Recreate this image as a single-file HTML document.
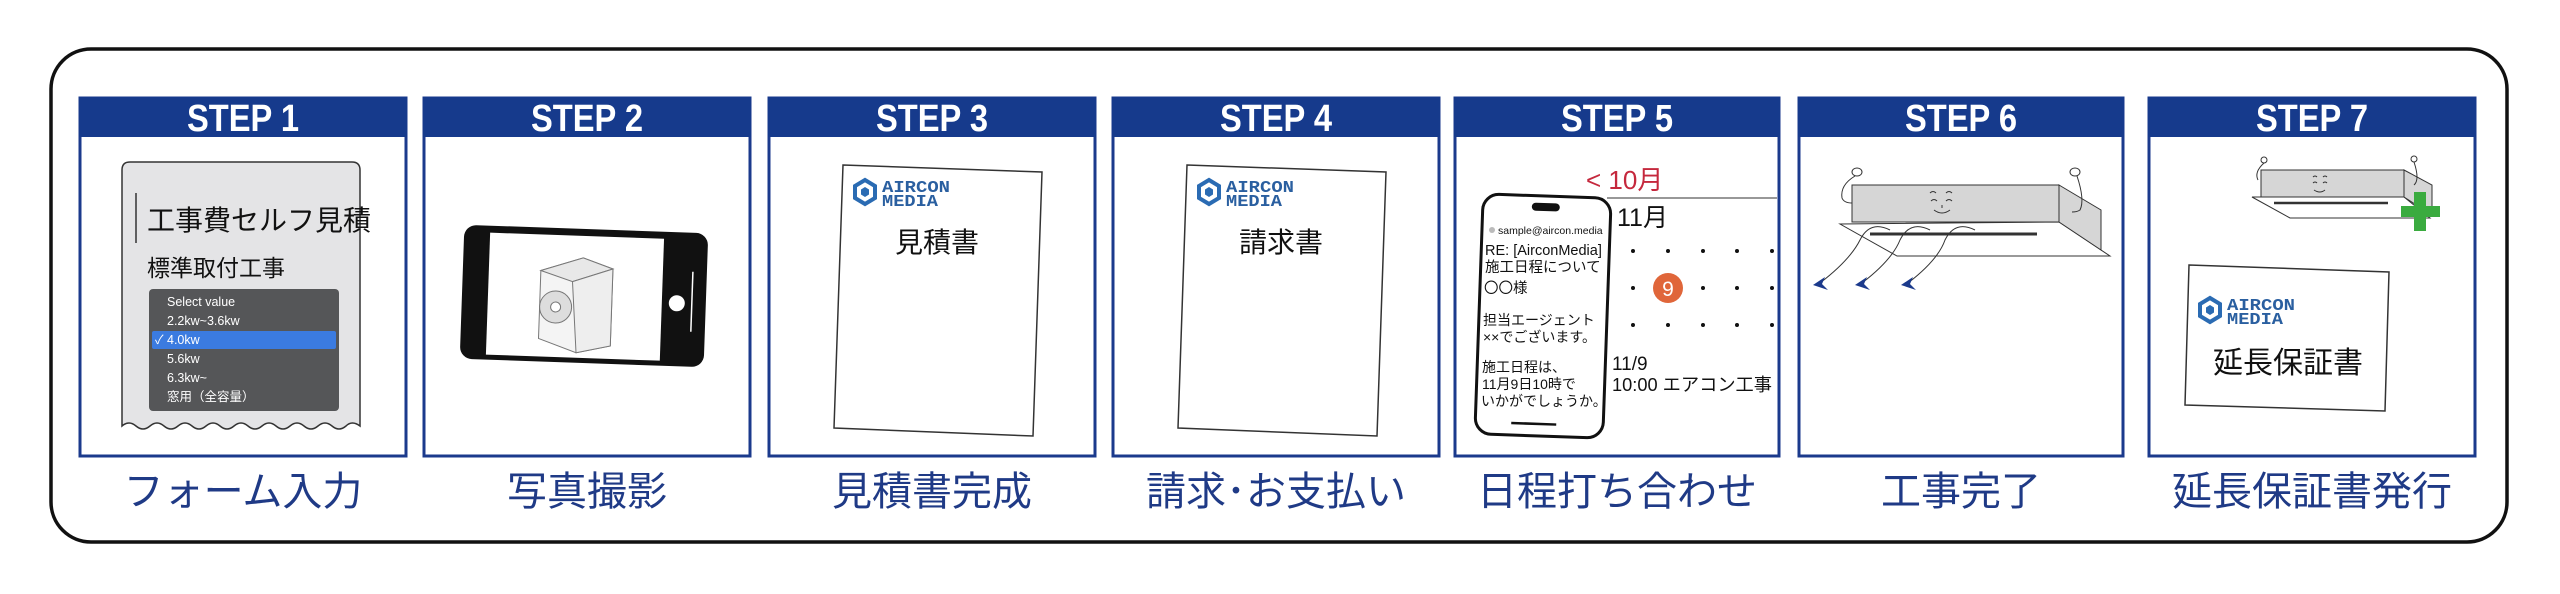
<!DOCTYPE html>
<html><head><meta charset="utf-8"><style>
html,body{margin:0;padding:0;background:#fff;}
svg{display:block;}
.st{font-family:"Liberation Sans Narrow","Liberation Sans",sans-serif;font-weight:bold;font-size:38px;fill:#fff;text-anchor:middle;}
.lb{font-family:"Liberation Sans","Noto Sans CJK JP",sans-serif;font-size:40px;fill:#1f3a86;text-anchor:middle;}
.jp{font-family:"Liberation Sans","Noto Sans CJK JP",sans-serif;}
.lg{font-family:"Liberation Mono","DejaVu Sans Mono",monospace;font-weight:bold;font-size:17px;fill:#2a5fa0;}
</style></head><body>
<svg width="2560" height="594" viewBox="0 0 2560 594" xmlns="http://www.w3.org/2000/svg">
<defs>
<g id="logo">
  <polygon points="11,0 21,6 21,18 11,24 1,18 1,6" fill="none" stroke="#2a6bb3" stroke-width="4"/>
  <polygon points="11,7 15,9.5 15,14.5 11,17 7,14.5 7,9.5" fill="#2a6bb3"/>
  <text x="28" y="12" class="lg" textLength="68" lengthAdjust="spacingAndGlyphs">AIRCON</text>
  <text x="28" y="26" class="lg" textLength="56" lengthAdjust="spacingAndGlyphs">MEDIA</text>
</g>
</defs>
<rect x="51" y="49" width="2456" height="493" rx="40" fill="none" stroke="#111" stroke-width="3.5"/>

<g stroke="#1b3a8c" stroke-width="3" fill="none">
<rect x="80" y="98" width="326" height="358"/>
<rect x="424" y="98" width="326" height="358"/>
<rect x="769" y="98" width="326" height="358"/>
<rect x="1113" y="98" width="326" height="358"/>
<rect x="1455" y="98" width="324" height="358"/>
<rect x="1799" y="98" width="324" height="358"/>
<rect x="2149" y="98" width="326" height="358"/>
</g>
<g fill="#163a8c">
<rect x="79" y="97" width="328" height="40"/>
<rect x="423" y="97" width="328" height="40"/>
<rect x="768" y="97" width="328" height="40"/>
<rect x="1112" y="97" width="328" height="40"/>
<rect x="1454" y="97" width="326" height="40"/>
<rect x="1798" y="97" width="326" height="40"/>
<rect x="2148" y="97" width="328" height="40"/>
</g>
<text class="st" x="243" y="131" textLength="112" lengthAdjust="spacingAndGlyphs">STEP 1</text>
<text class="st" x="587" y="131" textLength="112" lengthAdjust="spacingAndGlyphs">STEP 2</text>
<text class="st" x="932" y="131" textLength="112" lengthAdjust="spacingAndGlyphs">STEP 3</text>
<text class="st" x="1276" y="131" textLength="112" lengthAdjust="spacingAndGlyphs">STEP 4</text>
<text class="st" x="1617" y="131" textLength="112" lengthAdjust="spacingAndGlyphs">STEP 5</text>
<text class="st" x="1961" y="131" textLength="112" lengthAdjust="spacingAndGlyphs">STEP 6</text>
<text class="st" x="2312" y="131" textLength="112" lengthAdjust="spacingAndGlyphs">STEP 7</text>

<text class="lb" x="243" y="505">フォーム入力</text>
<text class="lb" x="587" y="505">写真撮影</text>
<text class="lb" x="932" y="505">見積書完成</text>
<text class="lb" x="1276" y="505">請求･お支払い</text>
<text class="lb" x="1617" y="505">日程打ち合わせ</text>
<text class="lb" x="1961" y="505">工事完了</text>
<text class="lb" x="2312" y="505">延長保証書発行</text>

<!-- STEP1 -->
<path d="M122,426 L122,170 Q122,162 130,162 L352,162 Q360,162 360,170 L360,426 q-8,-6 -14,0 q-7,6 -14,0 q-7,-6 -14,0 q-7,6 -14,0 q-7,-6 -14,0 q-7,6 -14,0 q-7,-6 -14,0 q-7,6 -14,0 q-7,-6 -14,0 q-7,6 -14,0 q-7,-6 -14,0 q-7,6 -14,0 q-7,-6 -14,0 q-7,6 -14,0 q-7,-6 -14,0 q-7,6 -14,0 q-7,-6 -14,0 Z" fill="#e4e4e6" stroke="#333" stroke-width="1.5"/>
<line x1="136" y1="193" x2="136" y2="243" stroke="#333" stroke-width="1.5"/>
<text class="jp" x="147" y="230" font-size="28" fill="#111">工事費セルフ見積</text>
<text class="jp" x="147" y="276" font-size="23" fill="#111">標準取付工事</text>
<rect x="149" y="289" width="190" height="122" rx="4" fill="#555658"/>
<rect x="152" y="331" width="184" height="18" rx="2" fill="#3b7be0"/>
<g class="jp" font-size="12.5" fill="#fff">
<text x="167" y="306">Select value</text>
<text x="167" y="325">2.2kw~3.6kw</text>
<text x="155" y="344">✓ 4.0kw</text>
<text x="167" y="363">5.6kw</text>
<text x="167" y="382">6.3kw~</text>
<text x="167" y="401">窓用（全容量）</text>
</g>

<!-- STEP2 phone -->
<g transform="rotate(2 584 296)">
<rect x="462" y="229" width="244" height="134" rx="12" fill="#111"/>
<rect x="488" y="236" width="174" height="122" fill="#fff"/>
<circle cx="677" cy="300" r="8" fill="#fff"/>
<line x1="692" y1="268" x2="692" y2="328" stroke="#fff" stroke-width="1.5"/>
<g stroke="#777" stroke-width="1" fill="#f4f4f4">
<polygon points="540,272 582,258 612,268 612,345 578,353 540,340"/>
<polygon points="540,272 582,258 612,268 572,282" fill="#e8e8e8"/>
<polygon points="572,282 612,268 612,345 578,353" fill="#eee"/>
<circle cx="556" cy="308" r="16" fill="#ddd"/>
<circle cx="556" cy="308" r="5" fill="#fff"/>
</g>
</g>

<!-- STEP3 doc -->
<polygon points="843,165 1042,172 1033,436 834,428" fill="#fff" stroke="#333" stroke-width="1.5"/>
<use href="#logo" x="854" y="180"/>
<text class="jp" x="937" y="252" font-size="28" fill="#111" text-anchor="middle">見積書</text>
<!-- STEP4 doc -->
<polygon points="1187,165 1386,172 1377,436 1178,428" fill="#fff" stroke="#333" stroke-width="1.5"/>
<use href="#logo" x="1198" y="180"/>
<text class="jp" x="1281" y="252" font-size="28" fill="#111" text-anchor="middle">請求書</text>

<!-- STEP5 -->
<text class="jp" x="1586" y="189" font-size="26" fill="#c5283d">&lt; 10月</text>
<line x1="1607" y1="198" x2="1777" y2="198" stroke="#777" stroke-width="1.5"/>
<text class="jp" x="1617" y="226" font-size="25" fill="#111">11月</text>
<g fill="#111">
<circle cx="1633" cy="251" r="2"/><circle cx="1668" cy="251" r="2"/><circle cx="1703" cy="251" r="2"/><circle cx="1737" cy="251" r="2"/><circle cx="1772" cy="251" r="2"/>
<circle cx="1633" cy="288" r="2"/><circle cx="1703" cy="288" r="2"/><circle cx="1737" cy="288" r="2"/><circle cx="1772" cy="288" r="2"/>
<circle cx="1633" cy="325" r="2"/><circle cx="1668" cy="325" r="2"/><circle cx="1703" cy="325" r="2"/><circle cx="1737" cy="325" r="2"/><circle cx="1772" cy="325" r="2"/>
</g>
<circle cx="1668" cy="288" r="15" fill="#e0663a"/>
<text class="jp" x="1668" y="296" font-size="21" fill="#fff" text-anchor="middle">9</text>
<text class="jp" x="1612" y="370" font-size="19" fill="#111">11/9</text>
<text class="jp" x="1612" y="391" font-size="18" fill="#111" textLength="160" lengthAdjust="spacingAndGlyphs">10:00 エアコン工事</text>
<g transform="rotate(2 1542 316)">
<rect x="1479" y="196" width="128" height="240" rx="16" fill="#fff" stroke="#111" stroke-width="3"/>
<rect x="1528" y="203" width="28" height="8" rx="4" fill="#111"/>
<line x1="1515" y1="424" x2="1560" y2="424" stroke="#111" stroke-width="2.5"/>
</g>
<g class="jp" fill="#111">
<circle cx="1492" cy="230" r="3" fill="#bbb"/>
<text x="1498" y="234" font-size="10.5">sample@aircon.media</text>
<text x="1485" y="255" font-size="14.5">RE: [AirconMedia]</text>
<text x="1485" y="272" font-size="14.5">施工日程について</text>
<text x="1484" y="293" font-size="14.5">〇〇様</text>
<text x="1483" y="325" font-size="14">担当エージェント</text>
<text x="1483" y="342" font-size="14">××でございます。</text>
<text x="1482" y="372" font-size="14">施工日程は、</text>
<text x="1482" y="389" font-size="14">11月9日10時で</text>
<text x="1481" y="406" font-size="14">いかがでしょうか。</text>
</g>

<!-- STEP6 -->
<g stroke="#333" stroke-width="1" fill="none">
<polygon points="1840,224 2059,222 2110,256 1897,256" fill="#fff"/>
<polygon points="2059,185 2101,210 2101,250 2059,222" fill="#d6d6d6"/>
<rect x="1852" y="185" width="207" height="37" fill="#d6d6d6"/>
<line x1="1870" y1="234" x2="2037" y2="234" stroke="#333" stroke-width="3"/>
<ellipse cx="1857" cy="172" rx="5" ry="4"/><ellipse cx="2075" cy="172" rx="5" ry="4"/>
<path d="M1855,176 Q1840,185 1842,198 Q1844,203 1852,203"/>
<path d="M2077,176 Q2085,200 2080,210 Q2077,212 2072,212"/>
<path d="M1930,193 q3,-3 6,0 M1946,193 q3,-3 6,0 M1931,201 q3,-3 6,0 M1946,201 q3,-3 6,0 M1934,210 q8,6 16,0 M1942,205 l0,3"/>
<path d="M1820,283 Q1850,260 1860,240 Q1870,220 1890,230" />
<path d="M1862,283 Q1892,260 1900,240 Q1910,220 1930,230" />
<path d="M1908,283 Q1938,260 1945,240 Q1955,220 1975,230" />
</g>
<g fill="#1b3a8c">
<polygon points="1813,285 1825,277 1822,284 1828,290"/>
<polygon points="1855,285 1867,277 1864,284 1870,290"/>
<polygon points="1901,285 1913,277 1910,284 1916,290"/>
</g>

<!-- STEP7 -->
<g stroke="#333" stroke-width="1" fill="none">
<polygon points="2252,197 2404,197 2430,218 2290,218" fill="#fff"/>
<polygon points="2404,170 2432,185 2432,215 2404,197" fill="#d6d6d6"/>
<rect x="2261" y="170" width="143" height="27" fill="#d6d6d6"/>
<line x1="2274" y1="203" x2="2388" y2="203" stroke="#333" stroke-width="2.5"/>
<circle cx="2264" cy="160" r="3"/><circle cx="2414" cy="159" r="3"/>
<path d="M2264,163 Q2254,172 2258,180"/>
<path d="M2414,162 Q2420,180 2414,185"/>
<path d="M2313,177 q2,-2 4,0 M2323,177 q2,-2 4,0 M2313,183 q2,-2 4,0 M2323,183 q2,-2 4,0 M2314,190 q6,4 11,0"/>
</g>
<path d="M2414,192 h12 v14 h14 v11 h-14 v14 h-12 v-14 h-13 v-11 h13 z" fill="#3aab3f"/>
<polygon points="2189,265 2389,272 2385,411 2185,405" fill="#fff" stroke="#333" stroke-width="1.5"/>
<use href="#logo" x="2199" y="298"/>
<text class="jp" x="2288" y="373" font-size="30" fill="#111" text-anchor="middle">延長保証書</text>
</svg>
</body></html>
